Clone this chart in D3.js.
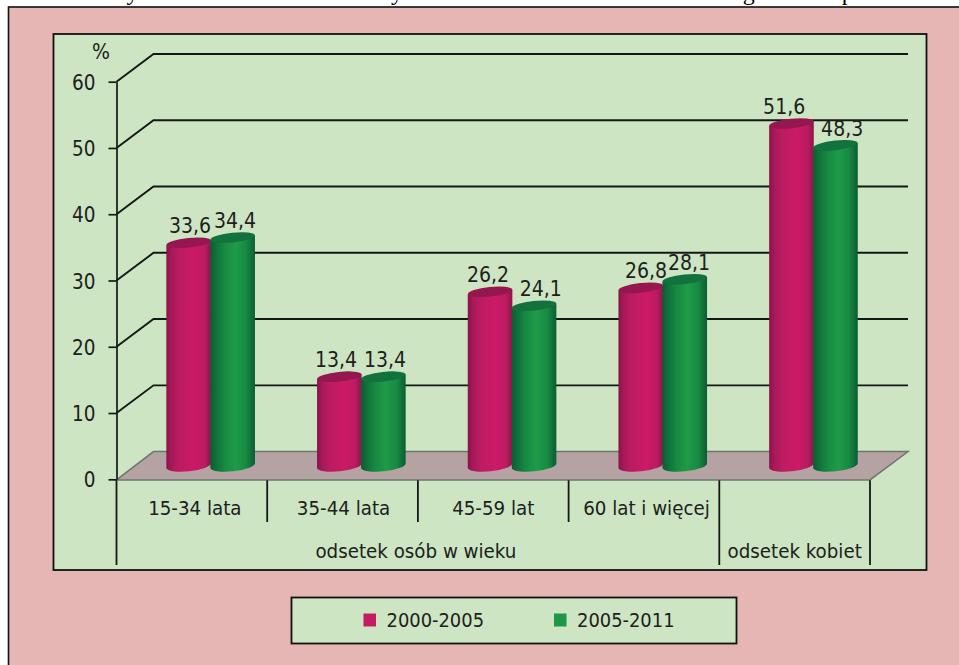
<!DOCTYPE html>
<html lang="pl">
<head>
<meta charset="utf-8">
<script src="https://cdn.jsdelivr.net/npm/d3@7"></script>
<style>
html,body{margin:0;padding:0;background:#fff;overflow:hidden}
svg{display:block}
text{font-family:"DejaVu Sans Condensed","DejaVu Sans",sans-serif;font-stretch:condensed;fill:#1c211c}
</style>
</head>
<body>
<script>
const categories = ["15-34 lata","35-44 lata","45-59 lat","60 lat i więcej","odsetek kobiet"];
const groups = [{label:"odsetek osób w wieku",from:0,to:4},{label:"odsetek kobiet",from:4,to:5}];
const seriesNames = ["2000-2005","2005-2011"];
const values2000 = [33.6,13.4,26.2,26.8,51.6];
const values2005 = [34.4,13.4,24.1,28.1,48.3];
const yTicks = [0,10,20,30,40,50,60];
const titleText = "Rysunek. Struktura badanych osób i odsetek kobiet według dwóch prób";

const W=959,H=665;
const svg=d3.select("body").append("svg").attr("width",W).attr("height",H).attr("viewBox",[0,0,W,H]);
const ink="#141814";

// clipped caption above the frame
svg.append("text").attr("x",500).attr("y",0).attr("text-anchor","middle")
  .attr("textLength",780).attr("lengthAdjust","spacing")
  .style("font-family","'Liberation Serif',serif").style("font-stretch","normal").style("font-size","24px").style("fill","#000").text(titleText);

// frames
svg.append("rect").attr("x",8.5).attr("y",7).attr("width",W+10).attr("height",H+10)
  .attr("fill","#e5b6b4").attr("stroke","#111").attr("stroke-width",1.6);
svg.append("rect").attr("x",53.5).attr("y",34).attr("width",873).attr("height",536)
  .attr("fill","#cde5c3").attr("stroke","#111").attr("stroke-width",1.8);

// scales
const depthX=37,depthY=-27.7;
const y=d3.scaleLinear().domain([0,60]).range([479.3,81.7]);
const x0=d3.scaleBand().domain(categories).range([116.5,870]);
const x1=d3.scaleBand().domain(seriesNames).range([-44,44]);

// walls' grid lines
const grid=svg.append("g").attr("fill","none").attr("stroke",ink).attr("stroke-width",1.9);
grid.selectAll("path").data(yTicks.filter(d=>d>0)).join("path")
  .attr("d",d=>{
    const p=d3.path();
    p.moveTo(x0.range()[0],y(d));
    p.lineTo(x0.range()[0]+depthX,y(d)+depthY);
    p.lineTo(x0.range()[1]+depthX+1,y(d)+depthY);
    return p.toString();
  });

// floor
const floor=d3.path();
floor.moveTo(x0.range()[0],y(0)+0.6);
floor.lineTo(x0.range()[0]+depthX,y(0)+depthY);
floor.lineTo(x0.range()[1]+depthX+1,y(0)+depthY);
floor.lineTo(x0.range()[1],y(0)+0.6);
floor.closePath();
svg.append("path").attr("d",floor.toString()).attr("fill","#b5a3a3").attr("stroke","#6f7570").attr("stroke-width",1.5);

// value axis
const axis=svg.append("g").attr("transform",`translate(${x0.range()[0]},0)`)
  .call(d3.axisLeft(y).tickValues(yTicks).tickSize(8).tickPadding(13).tickSizeOuter(0));
axis.selectAll("line,path").attr("stroke",ink).attr("stroke-width",1.7);
axis.selectAll("text").style("font-size","20.5px").style("fill","#1c211c").attr("dy","0.37em");
axis.attr("font-family",null).attr("font-size",null);
svg.append("text").attr("x",92).attr("y",59).style("font-size","21px").text("%");

// category separators and labels
const sep=svg.append("g").attr("stroke",ink).attr("stroke-width",1.8);
const edges=categories.map(c=>x0(c)).concat([x0.range()[1]]);
edges.forEach((e,i)=>{
  const long=i===0||groups.some(g=>g.from===i||g.to===i);
  sep.append("line").attr("x1",e).attr("x2",e).attr("y1",y(0)+1).attr("y2",long?565:522);
});
const catLabelDx=[3,1,0,2.5];
svg.append("g").selectAll("text").data(categories.slice(0,4)).join("text")
  .attr("x",(c,i)=>x0(c)+x0.bandwidth()/2+catLabelDx[i]).attr("y",515).attr("text-anchor","middle")
  .style("font-size","20.3px").text(d=>d);
svg.append("g").selectAll("text").data(groups).join("text")
  .attr("x",g=>(edges[g.from]+edges[g.to])/2-(g.from===0?2:0)).attr("y",558).attr("text-anchor","middle")
  .style("font-size","20.3px").text(g=>g.label);

// gradients
const defs=svg.append("defs");
const gradStops=[
  [["0","#8a1349"],["0.12","#a8195a"],["0.3","#bd1c61"],["0.62","#cb1a66"],["0.86","#bb1b60"],["1","#8a1549"]],
  [["0","#0b5c33"],["0.14","#117239"],["0.32","#178a42"],["0.56","#1f9b48"],["0.8","#178a42"],["1","#0b5c33"]]
];
gradStops.forEach((st,i)=>{
  const g=defs.append("linearGradient").attr("id","cyl"+i);
  st.forEach(s=>g.append("stop").attr("offset",s[0]).attr("stop-color",s[1]));
});
const topColors=["#96174f","#12713c"];
const legendColors=["#c51b63","#1e9747"];

// cylinders
const rad=22,ry=4.8,ryBase=5.8,tilt=-6,rise=rad*Math.sin(-tilt*Math.PI/180);
const rows=[];
[values2000,values2005].forEach((vals,s)=>vals.forEach((v,i)=>rows.push({s,i,v})));
const cx=d=>x0(categories[d.i])+x0.bandwidth()/2+depthX/2+x1(seriesNames[d.s])+rad;
const baseShift=depthY/2;
const bars=svg.append("g").selectAll("g").data(rows.sort((a,b)=>a.i-b.i||a.s-b.s)).join("g");
bars.append("path").attr("fill",d=>`url(#cyl${d.s})`).attr("d",d=>{
  const l=cx(d)-rad,r=cx(d)+rad+0.6,t=y(d.v)+baseShift,b=y(0)+baseShift;
  return `M${l},${t+rise} L${l},${b+rise} A${rad},${ryBase} ${tilt} 0 0 ${r},${b-rise} L${r},${t-rise} Z`;
});
bars.append("ellipse").attr("fill",d=>topColors[d.s])
  .attr("rx",rad+0.3).attr("ry",ry)
  .attr("transform",d=>`translate(${cx(d)+0.3},${y(d.v)+baseShift}) rotate(${tilt})`);

// value labels
const labelDx=[[1.7,-3,-1.7,5.5,-7],[2.6,2,7,4.5,7]];
svg.append("g").selectAll("text").data(rows).join("text")
  .attr("x",d=>cx(d)+labelDx[d.s][d.i]).attr("y",d=>y(d.v)+baseShift-9.5)
  .attr("text-anchor","middle").style("font-size","21px")
  .text(d=>String(d.v).replace(".",","));

// legend
svg.append("rect").attr("x",291.5).attr("y",597.5).attr("width",445).attr("height",46)
  .attr("fill","#cde5c3").attr("stroke","#111").attr("stroke-width",1.8);
const legX=d3.scaleOrdinal().domain(seriesNames).range([363.5,554]);
const leg=svg.append("g").selectAll("g").data(seriesNames).join("g");
leg.append("rect").attr("x",d=>legX(d)).attr("y",613.5).attr("width",12.5).attr("height",13)
  .attr("fill",(d,i)=>legendColors[i]);
leg.append("text").attr("x",d=>legX(d)+23).attr("y",627).style("font-size","19.9px").text(d=>d);
</script>
</body>
</html>
